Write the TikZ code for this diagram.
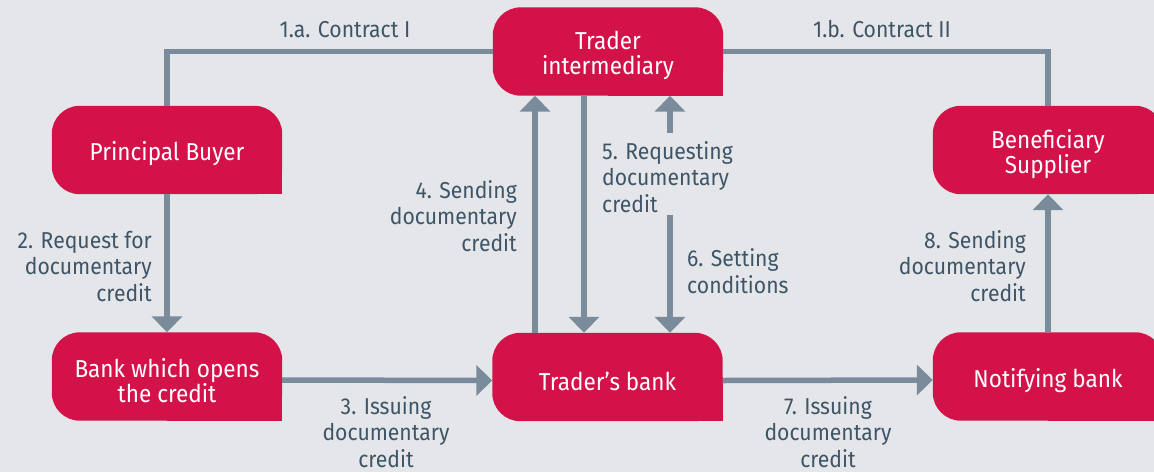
\documentclass[tikz,border=0pt]{standalone}
\usepackage{fontspec}
\setmainfont{Fira Sans}[FakeStretch=0.92]
\usetikzlibrary{arrows.meta,backgrounds}

\definecolor{bg}{HTML}{E5E6E9}
\definecolor{boxred}{HTML}{D4124A}
\definecolor{linegray}{HTML}{7A8C9B}
\definecolor{labeltext}{HTML}{3E5567}

% tall strut on the first line pushes box captions slightly below centre
\newcommand\capstrut{\rule{0pt}{27pt}}

\tikzset{
  party/.style={minimum width=230pt, minimum height=88pt, inner sep=0pt,
    text=white, align=center, font=\fontsize{24.5}{25}\selectfont},
  conn/.style={draw=linegray, line width=5.5pt},
  flow/.style={conn, -{Triangle[width=30pt,length=16pt]}},
  lbl/.style={text=labeltext, inner sep=0pt, font=\fontsize{23}{26.5}\selectfont},
}

\begin{document}
\begin{tikzpicture}[x=1pt,y=-1pt]
\useasboundingbox (0,0) rectangle (1154,472);
\clip (0,0) rectangle (1154,472);

% parties
\node[party] (T)  at (608,51.5)   {\capstrut Trader\\intermediary};
\node[party] (PB) at (167,150)    {\capstrut Principal Buyer};
\node[party] (BO) at (167,376.5)  {\capstrut Bank which opens\\the credit};
\node[party] (TB) at (607.5,377)  {\capstrut Trader’s bank};
\node[party] (BS) at (1048,150)   {\capstrut Beneficiary\\Supplier};
\node[party] (NB) at (1048,376.5) {\capstrut Notifying bank};

% box shapes: three rounded corners, square lower right corner
\begin{pgfonlayer}{background}
  \fill[bg] (0,0) rectangle (1154,472);
  \foreach \n in {T,PB,BO,TB,BS,NB}{
    \fill[boxred, rounded corners=28pt] (\n.south west) rectangle (\n.north east);
    \fill[boxred] (\n.center) rectangle (\n.south east);
  }
\end{pgfonlayer}

% contracts
\draw[conn] (PB.north) |- (T.west);
\draw[conn] (T.east) -| (BS.north);

% documentary credit flow
\draw[flow] (PB.south) -- (BO.north);
\draw[flow] ([yshift=-3.5pt]BO.east) -- ([yshift=-3.5pt]TB.west);
\draw[flow] ([xshift=-72.5pt]TB.north) -- ([xshift=-72.5pt]TB.north |- T.south);
\draw[flow] ([xshift=-24pt]T.south) -- ([xshift=-24pt]T.south |- TB.north);
\coordinate (c5) at (670,133);
\coordinate (c6) at (670,215);
\draw[flow] (c5) -- (c5 |- T.south);
\draw[flow] (c6) -- (c6 |- TB.north);
\draw[flow] ([yshift=-3.5pt]TB.east) -- ([yshift=-3.5pt]NB.west);
\draw[flow] (NB.north) -- (BS.south);

% labels (base anchor = baseline of the last line)
\node[lbl, anchor=base] (l1a) at (345,37) {1.a. Contract I};
\node[lbl, anchor=base] (l1b) at (882,37) {1.b. Contract II};
\node[lbl, anchor=base east, align=right] (l2) at (152,301) {2. Request for\\documentary\\credit};
\node[lbl, anchor=base, align=center] (l3) at (386,467) {3. Issuing\\documentary\\credit};
\node[lbl, anchor=base east, align=right] (l4) at (517,251) {4. Sending\\documentary\\credit};
\node[lbl, anchor=base west, align=left] (l5) at (602,212) {5. Requesting\\documentary\\credit};
\node[lbl, anchor=base west, align=left] (l6) at (687,293) {6. Setting\\conditions};
\node[lbl, anchor=base, align=center] (l7) at (828,467) {7. Issuing\\documentary\\credit};
\node[lbl, anchor=base east, align=right] (l8) at (1026,301) {8. Sending\\documentary\\credit};
\end{tikzpicture}
\end{document}
